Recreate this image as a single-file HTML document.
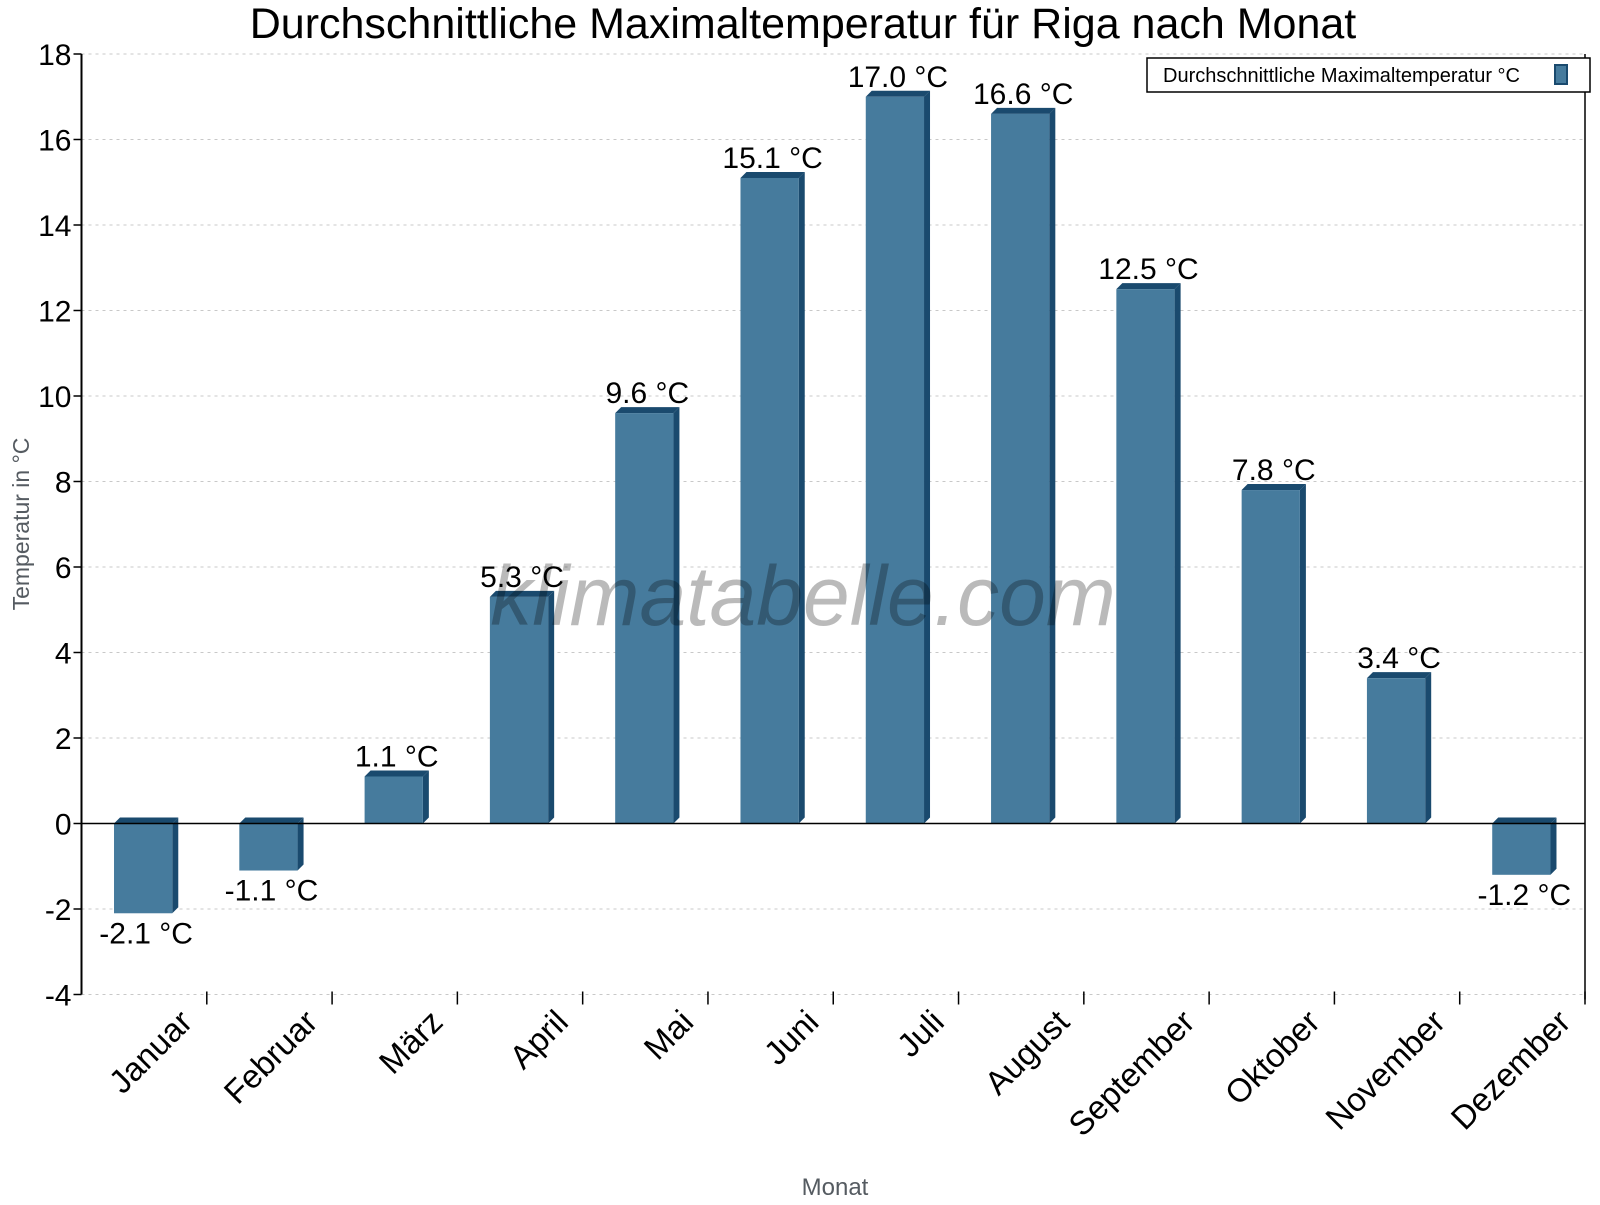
<!DOCTYPE html>
<html><head><meta charset="utf-8"><style>
body{margin:0;background:#fff;font-family:"Liberation Sans",sans-serif}
svg text{font-family:"Liberation Sans",sans-serif}
</style></head><body>
<svg id="chart" width="1600" height="1200" xmlns="http://www.w3.org/2000/svg">
<text x="803" y="38" font-size="43" text-anchor="middle" fill="#000">Durchschnittliche Maximaltemperatur für Riga nach Monat</text>
<g id="grid"></g><g id="bars"></g><g id="axes"></g>
<text x="835" y="1195" font-size="24" text-anchor="middle" fill="#555b61">Monat</text>
<text transform="translate(29,524) rotate(-90)" font-size="23" text-anchor="middle" fill="#555b61">Temperatur in °C</text>
<text x="803" y="625" font-size="84" font-style="italic" text-anchor="middle" fill="rgba(0,0,0,0.27)">klimatabelle.com</text>
<g>
<rect x="1147" y="58" width="443" height="34" fill="#fff" stroke="#000" stroke-width="1.5"/>
<text x="1163" y="82" font-size="20" fill="#000">Durchschnittliche Maximaltemperatur °C</text>
<rect x="1555" y="65" width="12" height="19" fill="#467b9d" stroke="#1a4a6e" stroke-width="2"/>
</g>
</svg>
<script>
const categories=["Januar","Februar","März","April","Mai","Juni","Juli","August","September","Oktober","November","Dezember"];
const values=[-2.1,-1.1,1.1,5.3,9.6,15.1,17.0,16.6,12.5,7.8,3.4,-1.2];
const yTicks=[-4,-2,0,2,4,6,8,10,12,14,16,18];
const NS="http://www.w3.org/2000/svg";
const X0=81.5,X1=1585,yMin=-4,yMax=18,Y0=994.5,Y1=54;
const band=(X1-X0)/categories.length;
function y(v){return Y0-(v-yMin)/(yMax-yMin)*(Y0-Y1);}
function xc(i){return X0+band*(i+0.5);}
function mk(tag,attrs,parent){const e=document.createElementNS(NS,tag);for(const k in attrs)e.setAttribute(k,attrs[k]);parent.appendChild(e);return e;}
const grid=document.getElementById('grid'),bars=document.getElementById('bars'),axes=document.getElementById('axes');
yTicks.forEach(t=>{
  const gl=mk('line',{x1:X0,x2:X1,y1:y(t),y2:y(t),stroke:'#c8c8c8','stroke-dasharray':'3,4','stroke-width':1},grid);
  
  
  const tk=mk('line',{x1:X0-8,x2:X0,y1:y(t),y2:y(t),stroke:'#000','stroke-width':1.5},axes);
  
  
  const tl=mk('text',{x:X0-10,y:y(t)+11,'font-size':30,'text-anchor':'end',fill:'#000'},axes);
  tl.textContent=t;
  
  
});
const bw=band*0.465,d=6;
values.forEach((v,i)=>{
  const cx=xc(i),x=cx-bw/2-1,top=Math.min(y(v),y(0)),bot=Math.max(y(v),y(0)),h=bot-top;
  const g=mk('g',{},bars);
  
  
  mk('polygon',{points:`${x},${top} ${x+d},${top-d} ${x+bw+d},${top-d} ${x+bw},${top}`,fill:'#1a4a6e'},g);
  mk('polygon',{points:`${x+bw},${top} ${x+bw+d},${top-d} ${x+bw+d},${bot-d} ${x+bw},${bot}`,fill:'#1a4a6e'},g);
  mk('rect',{x:x,y:top,width:bw,height:h,fill:'#467b9d'},g);
  const lab=mk('text',{x:cx+2,'font-size':30,'text-anchor':'middle',fill:'#000'},bars);
  lab.setAttribute('y',v>=0?y(v)-10:y(v)+30);
  lab.textContent=v.toFixed(1)+' °C';
  
  
});
const za=mk('line',{x1:X0,x2:X1,y1:y(0),y2:y(0),stroke:'#000','stroke-width':1.5},axes);


const ya=mk('line',{x1:X0,x2:X0,y1:Y1,y2:Y0,stroke:'#000','stroke-width':2},axes);


const ra=mk('line',{x1:X1,x2:X1,y1:Y1,y2:Y0+5,stroke:'#000','stroke-width':1.5},axes);


categories.forEach((c,i)=>{
  const bx=X0+band*(i+1);
  const tk=mk('line',{x1:bx,x2:bx,y1:Y0-3,y2:Y0+10,stroke:'#000','stroke-width':1.5},axes);
  
  
  const ax=xc(i)+50,ay=1024;
  const t=mk('text',{x:ax,y:ay,'font-size':33,'text-anchor':'end',fill:'#000',transform:`rotate(-45 ${ax} ${ay})`},axes);
  t.textContent=c;
  
  
});
</script>
</body></html>
